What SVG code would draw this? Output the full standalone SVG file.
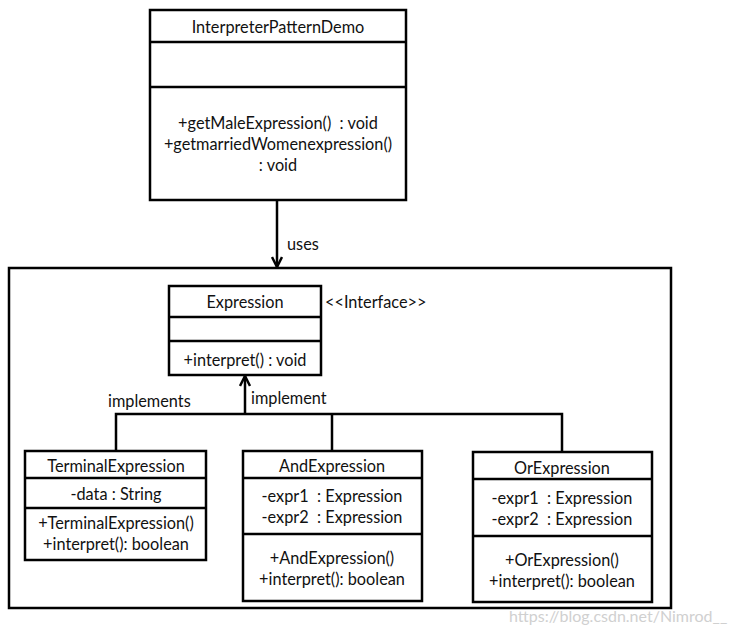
<svg xmlns="http://www.w3.org/2000/svg" width="733" height="634" viewBox="0 0 733 634">
<style>
.box{fill:#fff;stroke:#000;stroke-width:2.5}
.ln{stroke:#000;stroke-width:2.5;fill:none}
text{font-family:Lato,"Liberation Sans",sans-serif;font-size:16.3px;fill:#111}
.c{text-anchor:middle}
.wm{fill:#d0d0d0;font-size:16px}
</style>
<defs>
<marker id="arr" viewBox="0 0 12 12" refX="11" refY="6" markerWidth="12" markerHeight="12" markerUnits="userSpaceOnUse" orient="auto">
<polyline points="1,1 11,6 1,11" fill="none" stroke="#000" stroke-width="2.5"/>
</marker>
</defs>
<rect width="733" height="634" fill="#fff"/>
<g id="package">
<rect class="box" x="9" y="268" width="662" height="340"/>
</g>
<g id="InterpreterPatternDemo">
<rect class="box" x="150" y="10" width="256" height="190"/>
<line class="ln" x1="150" y1="42" x2="406" y2="42"/>
<line class="ln" x1="150" y1="87" x2="406" y2="87"/>
<text class="c" x="278" y="33">InterpreterPatternDemo</text>
<text class="c" x="278" y="129">+getMaleExpression()&#160;&#160;: void</text>
<text class="c" x="278" y="150">+getmarriedWomenexpression()</text>
<text class="c" x="278" y="171">: void</text>
</g>
<g id="Expression">
<rect class="box" x="169" y="286" width="152" height="89"/>
<line class="ln" x1="169" y1="317" x2="321" y2="317"/>
<line class="ln" x1="169" y1="341" x2="321" y2="341"/>
<text class="c" x="245" y="308">Expression</text>
<text class="c" x="245" y="366">+interpret() : void</text>
<text x="325" y="308">&lt;&lt;Interface&gt;&gt;</text>
</g>
<g id="TerminalExpression">
<rect class="box" x="25" y="451" width="181" height="109"/>
<line class="ln" x1="25" y1="478" x2="206" y2="478"/>
<line class="ln" x1="25" y1="508" x2="206" y2="508"/>
<text class="c" x="116" y="472">TerminalExpression</text>
<text class="c" x="116" y="500">-data : String</text>
<text class="c" x="116" y="529">+TerminalExpression()</text>
<text class="c" x="116" y="550">+interpret(): boolean</text>
</g>
<g id="AndExpression">
<rect class="box" x="243" y="451" width="179" height="150"/>
<line class="ln" x1="243" y1="478" x2="422" y2="478"/>
<line class="ln" x1="243" y1="534" x2="422" y2="534"/>
<text class="c" x="332" y="472">AndExpression</text>
<text class="c" x="332" y="502">-expr1&#160;&#160;: Expression</text>
<text class="c" x="332" y="523">-expr2&#160;&#160;: Expression</text>
<text class="c" x="332" y="564">+AndExpression()</text>
<text class="c" x="332" y="585">+interpret(): boolean</text>
</g>
<g id="OrExpression">
<rect class="box" x="473" y="452" width="179" height="150"/>
<line class="ln" x1="473" y1="479" x2="652" y2="479"/>
<line class="ln" x1="473" y1="536" x2="652" y2="536"/>
<text class="c" x="562" y="474">OrExpression</text>
<text class="c" x="562" y="504">-expr1&#160;&#160;: Expression</text>
<text class="c" x="562" y="525">-expr2&#160;&#160;: Expression</text>
<text class="c" x="562" y="566">+OrExpression()</text>
<text class="c" x="562" y="587">+interpret(): boolean</text>
</g>
<g id="connectors">
<line class="ln" x1="277" y1="200" x2="277" y2="267" marker-end="url(#arr)"/>
<text x="287" y="250">uses</text>
<polyline class="ln" points="116,451 116,414 562,414 562,452"/>
<line class="ln" x1="332" y1="414" x2="332" y2="451"/>
<line class="ln" x1="245" y1="414" x2="245" y2="376" marker-end="url(#arr)"/>
<text x="251" y="404">implement</text>
<text x="108" y="407">implements</text>
</g>
<text class="wm" x="509" y="622">https://blog.csdn.net/Nimrod__</text>
</svg>
